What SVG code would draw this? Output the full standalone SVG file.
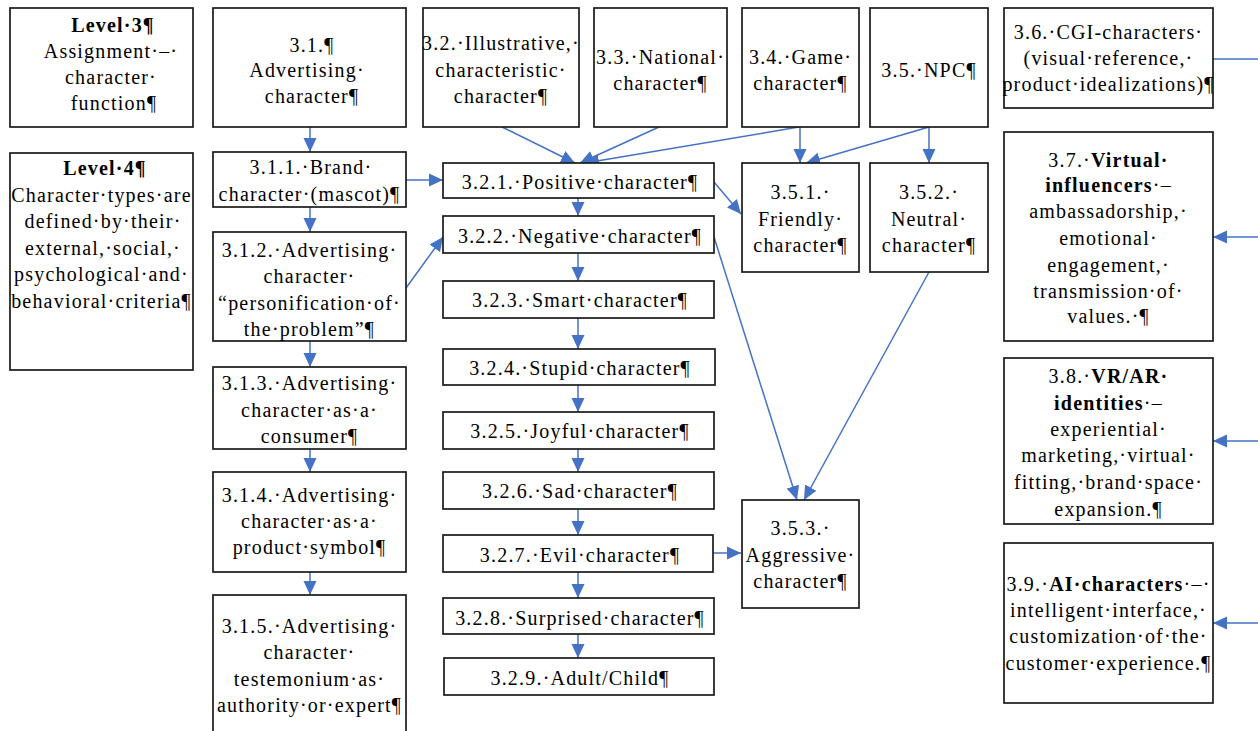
<svg xmlns="http://www.w3.org/2000/svg" width="1258" height="731" viewBox="0 0 1258 731">
<style>
.box{fill:#fff;stroke:#1a1a1a;stroke-width:1.7}
.t{font-family:"Liberation Serif","Times New Roman",serif;font-size:20px;letter-spacing:1.2px;fill:#000;text-anchor:middle}
.b{font-weight:bold}
.c{fill:none;stroke:#4472C4;stroke-width:1.5}
.ca{fill:none;stroke:#4472C4;stroke-width:1.5;marker-end:url(#ah)}
</style>
<defs>
<marker id="ah" markerUnits="userSpaceOnUse" markerWidth="14" markerHeight="14" refX="14" refY="7" orient="auto">
<path d="M0,0.5 L14,7 L0,13.5 z" fill="#4472C4"/>
</marker>
</defs>
<rect width="1258" height="731" fill="#fff"/>

<g id="connectors">
<line class="ca" x1="310" y1="127" x2="310" y2="152"/>
<line class="ca" x1="310" y1="207" x2="310" y2="232"/>
<line class="ca" x1="310" y1="341" x2="310" y2="367"/>
<line class="ca" x1="310" y1="449" x2="310" y2="472"/>
<line class="ca" x1="310" y1="572" x2="310" y2="595"/>
<line class="ca" x1="406" y1="180" x2="443" y2="180"/>
<line class="ca" x1="406" y1="288" x2="443" y2="237"/>
<line class="ca" x1="502" y1="127" x2="575" y2="163"/>
<line class="ca" x1="659" y1="127" x2="580" y2="163"/>
<line class="ca" x1="799" y1="127" x2="585" y2="163"/>
<line class="ca" x1="800" y1="127" x2="800" y2="163"/>
<line class="ca" x1="929" y1="127" x2="806" y2="163"/>
<line class="ca" x1="929" y1="127" x2="929" y2="163"/>
<line class="ca" x1="714" y1="182" x2="741" y2="214"/>
<line class="ca" x1="578" y1="198" x2="578" y2="216"/>
<line class="ca" x1="578" y1="253" x2="578" y2="281"/>
<line class="ca" x1="578" y1="318" x2="578" y2="349"/>
<line class="ca" x1="578" y1="385" x2="578" y2="412"/>
<line class="ca" x1="578" y1="449" x2="578" y2="472"/>
<line class="ca" x1="578" y1="509" x2="578" y2="535"/>
<line class="ca" x1="578" y1="572" x2="578" y2="598"/>
<line class="ca" x1="578" y1="634" x2="578" y2="658"/>
<line class="ca" x1="714" y1="237" x2="797" y2="500"/>
<line class="ca" x1="929" y1="272" x2="804" y2="500"/>
<line class="ca" x1="713" y1="553" x2="741" y2="553"/>
<line class="c" x1="1213" y1="59" x2="1258" y2="59"/>
<line class="ca" x1="1258" y1="237" x2="1213" y2="237"/>
<line class="ca" x1="1258" y1="441" x2="1213" y2="441"/>
<line class="ca" x1="1258" y1="623" x2="1213" y2="623"/>
</g>

<g id="level3">
<rect class="box" x="10" y="8" width="183" height="119"/>
<text class="t"><tspan class="b" x="113" y="32">Level·3¶</tspan><tspan x="111" y="58">Assignment·–·</tspan><tspan x="111" y="84">character·</tspan><tspan x="114" y="110">function¶</tspan></text>
</g>
<g id="n3_1">
<rect class="box" x="213" y="8" width="193" height="119"/>
<text class="t"><tspan x="312" y="52">3.1.¶</tspan><tspan x="307" y="77">Advertising·</tspan><tspan x="312" y="103">character¶</tspan></text>
</g>
<g id="n3_2">
<rect class="box" x="423" y="8" width="156" height="119"/>
<text class="t"><tspan x="501" y="50">3.2.·Illustrative,·</tspan><tspan x="501" y="77">characteristic·</tspan><tspan x="501" y="103">character¶</tspan></text>
</g>
<g id="n3_3">
<rect class="box" x="594" y="8" width="133" height="119"/>
<text class="t"><tspan x="660.5" y="64">3.3.·National·</tspan><tspan x="660.5" y="90">character¶</tspan></text>
</g>
<g id="n3_4">
<rect class="box" x="742" y="8" width="117" height="119"/>
<text class="t"><tspan x="800.5" y="64">3.4.·Game·</tspan><tspan x="800.5" y="90">character¶</tspan></text>
</g>
<g id="n3_5">
<rect class="box" x="870" y="8" width="118" height="119"/>
<text class="t"><tspan x="929" y="77">3.5.·NPC¶</tspan></text>
</g>
<g id="n3_6">
<rect class="box" x="1004" y="8" width="209" height="100"/>
<text class="t"><tspan x="1108.5" y="39">3.6.·CGI-characters·</tspan><tspan x="1108.5" y="65">(visual·reference,·</tspan><tspan x="1108.5" y="91">product·idealizations)¶</tspan></text>
</g>

<g id="level4">
<rect class="box" x="10" y="153" width="183" height="217"/>
<text class="t"><tspan class="b" x="105" y="175">Level·4¶</tspan><tspan x="101.5" y="202">Character·types·are</tspan><tspan x="103" y="228">defined·by·their·</tspan><tspan x="103" y="255">external,·social,·</tspan><tspan x="101.5" y="281">psychological·and·</tspan><tspan x="101.5" y="308">behavioral·criteria¶</tspan></text>
</g>

<g id="n3_1_1">
<rect class="box" x="213" y="152" width="193" height="55"/>
<text class="t"><tspan x="311" y="174">3.1.1.·Brand·</tspan><tspan x="309.5" y="201">character·(mascot)¶</tspan></text>
</g>
<g id="n3_1_2">
<rect class="box" x="213" y="232" width="193" height="109"/>
<text class="t"><tspan x="309.5" y="257">3.1.2.·Advertising·</tspan><tspan x="309.5" y="283">character·</tspan><tspan x="309.5" y="310">“personification·of·</tspan><tspan x="309.5" y="336">the·problem”¶</tspan></text>
</g>
<g id="n3_1_3">
<rect class="box" x="213" y="367" width="193" height="82"/>
<text class="t"><tspan x="309.5" y="390">3.1.3.·Advertising·</tspan><tspan x="309.5" y="417">character·as·a·</tspan><tspan x="309.5" y="443">consumer¶</tspan></text>
</g>
<g id="n3_1_4">
<rect class="box" x="213" y="472" width="193" height="100"/>
<text class="t"><tspan x="309.5" y="502">3.1.4.·Advertising·</tspan><tspan x="309.5" y="528">character·as·a·</tspan><tspan x="309.5" y="554">product·symbol¶</tspan></text>
</g>
<g id="n3_1_5">
<rect class="box" x="213" y="595" width="193" height="150"/>
<text class="t"><tspan x="309.5" y="633">3.1.5.·Advertising·</tspan><tspan x="309.5" y="659">character·</tspan><tspan x="309.5" y="686">testemonium·as·</tspan><tspan x="309.5" y="712">authority·or·expert¶</tspan></text>
</g>

<g id="n3_2_1">
<rect class="box" x="443" y="163" width="271" height="35"/>
<text class="t" x="580" y="189">3.2.1.·Positive·character¶</text>
</g>
<g id="n3_2_2">
<rect class="box" x="443" y="216" width="271" height="37"/>
<text class="t" x="580" y="243">3.2.2.·Negative·character¶</text>
</g>
<g id="n3_2_3">
<rect class="box" x="443" y="281" width="271" height="37"/>
<text class="t" x="580" y="307">3.2.3.·Smart·character¶</text>
</g>
<g id="n3_2_4">
<rect class="box" x="443" y="349" width="272" height="36"/>
<text class="t" x="580" y="375">3.2.4.·Stupid·character¶</text>
</g>
<g id="n3_2_5">
<rect class="box" x="443" y="412" width="271" height="37"/>
<text class="t" x="580" y="438">3.2.5.·Joyful·character¶</text>
</g>
<g id="n3_2_6">
<rect class="box" x="443" y="472" width="271" height="37"/>
<text class="t" x="580" y="498">3.2.6.·Sad·character¶</text>
</g>
<g id="n3_2_7">
<rect class="box" x="443" y="535" width="270" height="37"/>
<text class="t" x="580" y="562">3.2.7.·Evil·character¶</text>
</g>
<g id="n3_2_8">
<rect class="box" x="443" y="598" width="271" height="36"/>
<text class="t" x="580" y="625">3.2.8.·Surprised·character¶</text>
</g>
<g id="n3_2_9">
<rect class="box" x="444" y="658" width="270" height="37"/>
<text class="t" x="580" y="685">3.2.9.·Adult/Child¶</text>
</g>

<g id="n3_5_1">
<rect class="box" x="742" y="163" width="117" height="109"/>
<text class="t"><tspan x="800.5" y="199">3.5.1.·</tspan><tspan x="800.5" y="226">Friendly·</tspan><tspan x="800.5" y="252">character¶</tspan></text>
</g>
<g id="n3_5_2">
<rect class="box" x="870" y="163" width="118" height="109"/>
<text class="t"><tspan x="929" y="199">3.5.2.·</tspan><tspan x="929" y="226">Neutral·</tspan><tspan x="929" y="252">character¶</tspan></text>
</g>
<g id="n3_5_3">
<rect class="box" x="742" y="500" width="117" height="108"/>
<text class="t"><tspan x="800.5" y="535">3.5.3.·</tspan><tspan x="800.5" y="562">Aggressive·</tspan><tspan x="800.5" y="588">character¶</tspan></text>
</g>

<g id="n3_7">
<rect class="box" x="1004" y="132" width="209" height="209"/>
<text class="t"><tspan x="1108.5" y="167">3.7.·<tspan class="b">Virtual·</tspan></tspan><tspan x="1108.5" y="192"><tspan class="b">influencers</tspan>·–</tspan><tspan x="1108.5" y="218">ambassadorship,·</tspan><tspan x="1108.5" y="245">emotional·</tspan><tspan x="1108.5" y="272">engagement,·</tspan><tspan x="1108.5" y="298">transmission·of·</tspan><tspan x="1108.5" y="323">values.·¶</tspan></text>
</g>
<g id="n3_8">
<rect class="box" x="1004" y="358" width="209" height="166"/>
<text class="t"><tspan x="1108.5" y="383">3.8.·<tspan class="b">VR/AR·</tspan></tspan><tspan x="1108.5" y="410"><tspan class="b">identities</tspan>·–</tspan><tspan x="1108.5" y="436">experiential·</tspan><tspan x="1108.5" y="462">marketing,·virtual·</tspan><tspan x="1108.5" y="489">fitting,·brand·space·</tspan><tspan x="1108.5" y="516">expansion.¶</tspan></text>
</g>
<g id="n3_9">
<rect class="box" x="1004" y="543" width="209" height="160"/>
<text class="t"><tspan x="1108.5" y="591">3.9.·<tspan class="b">AI·characters</tspan>·–·</tspan><tspan x="1108.5" y="617">intelligent·interface,·</tspan><tspan x="1108.5" y="643">customization·of·the·</tspan><tspan x="1108.5" y="670">customer·experience.¶</tspan></text>
</g>
</svg>
